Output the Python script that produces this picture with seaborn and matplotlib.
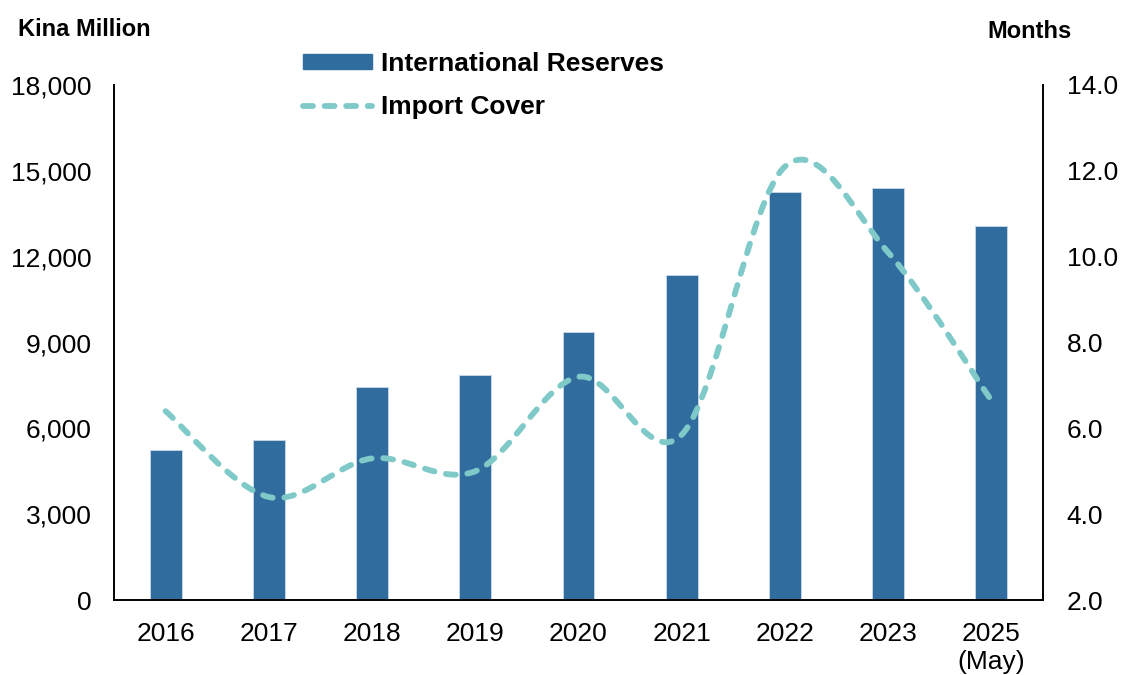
import numpy as np
import seaborn as sns
import matplotlib.pyplot as plt
from matplotlib.path import Path
from matplotlib.patches import PathPatch, Patch
from matplotlib.lines import Line2D
from matplotlib.ticker import FuncFormatter

years = ["2016", "2017", "2018", "2019", "2020", "2021", "2022", "2023", "2025\n(May)"]
reserves = [5250, 5590, 7440, 7870, 9380, 11360, 14250, 14400, 13070]
import_cover = [6.4, 4.4, 5.3, 5.0, 7.2, 5.85, 12.1, 10.1, 6.65]

bar_color = "#316c9e"
line_color = "#7fcac8"

sns.set_style("white")
plt.rcParams["font.family"] = ["Liberation Sans", "DejaVu Sans"]
plt.rcParams["text.color"] = "black"

fig = plt.figure(figsize=(11.31, 6.75), dpi=100)
ax = fig.add_axes([114 / 1131, 1 - 600 / 675, (1043 - 114) / 1131, (600 - 85) / 675])

sns.barplot(x=years, y=reserves, color=bar_color, width=0.31, saturation=1,
            edgecolor="#c9d8e8", linewidth=0.6, ax=ax)
ax.set_xlim(-0.5, len(years) - 0.5)
ax.set_ylim(0, 18000)
ax.set_yticks(range(0, 18001, 3000))
ax.yaxis.set_major_formatter(FuncFormatter(lambda v, p: f"{int(v):,}"))
ax.set_xlabel("")
ax.set_ylabel("")
ax.tick_params(axis="both", length=0, labelsize=19, colors="black")
ax.tick_params(axis="y", pad=16)
ax.tick_params(axis="x", pad=16)
for s in ["left", "bottom"]:
    ax.spines[s].set_color("black")
    ax.spines[s].set_linewidth(1.4)
ax.spines["top"].set_visible(False)
ax.spines["right"].set_visible(False)

ax2 = ax.twinx()
ax2.set_ylim(2, 14)
ax2.set_yticks(np.arange(2, 14.1, 2))
ax2.yaxis.set_major_formatter(FuncFormatter(lambda v, p: f"{v:.1f}"))
ax2.tick_params(axis="y", length=0, labelsize=19, colors="black", pad=17)
ax2.spines["right"].set_color("black")
ax2.spines["right"].set_linewidth(1.4)
for s in ["left", "top", "bottom"]:
    ax2.spines[s].set_visible(False)
ax2.grid(False)

# smoothed line (Excel-style bezier through the data points)
xs = np.arange(len(import_cover), dtype=float)
ys = np.array(import_cover, dtype=float)
pts = np.column_stack([xs, ys])
verts = [pts[0]]
codes = [Path.MOVETO]
n = len(pts)
for i in range(n - 1):
    p0 = pts[max(i - 1, 0)]
    p1 = pts[i]
    p2 = pts[i + 1]
    p3 = pts[min(i + 2, n - 1)]
    c1 = p1 + (p2 - p0) / 6
    c2 = p2 - (p3 - p1) / 6
    verts += [c1, c2, p2]
    codes += [Path.CURVE4] * 3
dash = (0, (1.7, 2.0))
patch = PathPatch(Path(verts, codes), fill=False, edgecolor=line_color,
                  linewidth=4.2, linestyle=dash, capstyle="round")
ax2.add_patch(patch)

handles = [
    Patch(facecolor=bar_color, edgecolor=bar_color, label="International Reserves"),
    Line2D([0], [0], color=line_color, lw=4.2, linestyle=dash,
           dash_capstyle="round", label="Import Cover"),
]
leg = fig.legend(handles=handles, loc="upper left",
                 bbox_to_anchor=(303 / 1131, 1 - 52 / 675), frameon=False,
                 borderpad=0, borderaxespad=0, handlelength=2.6, handleheight=0.5,
                 handletextpad=0.35, labelspacing=0.72,
                 prop={"size": 19, "weight": "bold"})

fig.text(18 / 1131, 1 - 29 / 675, "Kina Million", fontsize=17, fontweight="bold",
         ha="left", va="center")
fig.text(1072 / 1131, 1 - 31 / 675, "Months", fontsize=17, fontweight="bold",
         ha="right", va="center")

fig.savefig("out.png", dpi=100)
